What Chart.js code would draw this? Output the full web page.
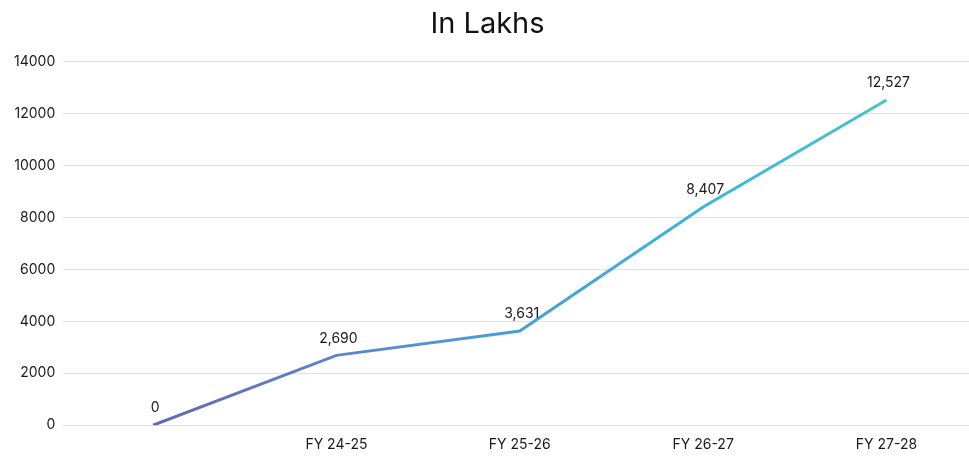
<!DOCTYPE html>
<html lang="en">
<head>
    <meta charset="UTF-8">
    <title>In Lakhs</title>
    <script src="https://cdn.jsdelivr.net/npm/chart.js"></script>
    <style>
        html, body { margin: 0; padding: 0; background: #fff; }
        #wrap { width: 969px; height: 457px; }
    </style>
</head>
<body>
    <div id="wrap"><canvas id="lakhsChart"></canvas></div>

    <script>
        // Values
        var categories = ['', 'FY 24-25', 'FY 25-26', 'FY 26-27', 'FY 27-28'];
        var amounts = [0, 2690, 3631, 8407, 12527];
        var yTicks = [0, 2000, 4000, 6000, 8000, 10000, 12000, 14000];

        var fontFamily = 'Inter, "Liberation Sans", sans-serif';

        // points on a numeric x axis so the last category can sit near the edge
        var points = amounts.map(function (v, i) { return { x: i, y: v }; });

        // Draw the value above each point
        var valueLabels = {
            id: 'valueLabels',
            afterDatasetsDraw: function (chart) {
                var ctx = chart.ctx;
                var meta = chart.getDatasetMeta(0);
                ctx.save();
                ctx.font = '14px ' + fontFamily;
                ctx.fillStyle = '#1a1a1a';
                ctx.textAlign = 'center';
                ctx.textBaseline = 'bottom';
                meta.data.forEach(function (pt, i) {
                    ctx.fillText(amounts[i].toLocaleString('en-US'), pt.x + 2, pt.y - 10);
                });
                ctx.restore();
            }
        };

        function lineGradient(context) {
            var area = context.chart.chartArea;
            if (!area) return '#5a7fcf';
            var g = context.chart.ctx.createLinearGradient(area.left, 0, area.right, 0);
            g.addColorStop(0, '#6a58a6');
            g.addColorStop(0.35, '#5b8bd0');
            g.addColorStop(0.7, '#38b6de');
            g.addColorStop(1, '#4ecbbd');
            return g;
        }

        var ctx = document.getElementById('lakhsChart').getContext('2d');
        var myChart = new Chart(ctx, {
            type: 'line',
            data: {
                datasets: [{
                    data: points,
                    borderColor: lineGradient,
                    borderWidth: 3,
                    pointRadius: 0,
                    tension: 0,
                    fill: false
                }]
            },
            options: {
                responsive: true,
                maintainAspectRatio: false,
                animation: false,
                layout: { padding: { left: 6, right: 0, top: 0, bottom: -7 } },
                plugins: {
                    legend: { display: false },
                    tooltip: { enabled: false },
                    title: {
                        display: true,
                        text: 'In Lakhs',
                        color: '#111',
                        font: { family: fontFamily, size: 29, weight: 'normal' },
                        padding: { top: 7, bottom: 20 }
                    }
                },
                scales: {
                    x: {
                        type: 'linear',
                        min: -0.49,
                        max: 4.45,
                        afterBuildTicks: function (axis) {
                            axis.ticks = categories.map(function (c, i) { return { value: i }; });
                        },
                        grid: { display: false, drawTicks: false },
                        border: { display: false },
                        ticks: {
                            color: '#1a1a1a',
                            font: { family: fontFamily, size: 14 },
                            padding: 11,
                            maxRotation: 0,
                            callback: function (v) { return categories[v] || ''; }
                        }
                    },
                    y: {
                        min: 0,
                        max: 14000,
                        afterBuildTicks: function (axis) {
                            axis.ticks = yTicks.map(function (v) { return { value: v }; });
                        },
                        grid: { color: '#e0e0e0', lineWidth: 1, drawTicks: false },
                        border: { display: false },
                        ticks: {
                            color: '#1a1a1a',
                            font: { family: fontFamily, size: 14 },
                            padding: 8,
                            callback: function (v) { return String(v); }
                        }
                    }
                }
            },
            plugins: [valueLabels]
        });
    </script>
</body>
</html>
